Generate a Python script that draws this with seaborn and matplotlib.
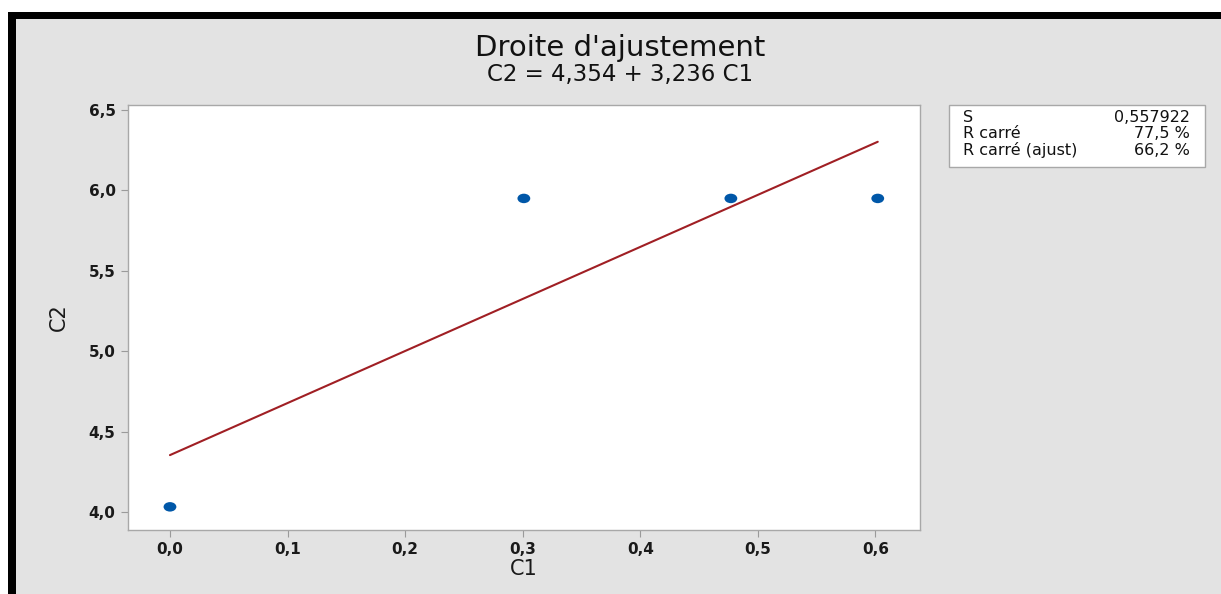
import numpy as np
import pandas as pd
import matplotlib
matplotlib.use("Agg")
import matplotlib.pyplot as plt
import seaborn as sns
from matplotlib.patches import Rectangle
from matplotlib.path import Path
from matplotlib.transforms import Affine2D

# ---- data ----
c1 = [0.0, 0.30103, 0.47712, 0.60206]
c2 = [4.032, 5.950, 5.950, 5.950]
x_ticks = [0.0, 0.1, 0.2, 0.3, 0.4, 0.5, 0.6]
x_tick_labels = ["0,0", "0,1", "0,2", "0,3", "0,4", "0,5", "0,6"]
y_ticks = [4.0, 4.5, 5.0, 5.5, 6.0, 6.5]
y_tick_labels = ["4,0", "4,5", "5,0", "5,5", "6,0", "6,5"]
title = "Droite d'ajustement"
subtitle = "C2 = 4,354 + 3,236 C1"
stat_names = ["S", "R carré", "R carré (ajust)"]
stat_values = ["0,557922", "77,5 %", "66,2 %"]

df = pd.DataFrame({"C1": c1, "C2": c2})

sns.set_theme(style="white")
plt.rcParams["font.family"] = ["DejaVu Sans"]

W, H = 1221, 594
fig = plt.figure(figsize=(W / 100, H / 100), dpi=100)
fig.patch.set_facecolor("white")

# gray panel with thick black top/left border
bg = "#E3E3E3"
fig.patches.append(Rectangle((8 / W, 0), 1 - 8 / W, 1 - 12 / H, transform=fig.transFigure,
                             facecolor=bg, edgecolor="none", zorder=-3))
fig.patches.append(Rectangle((8 / W, 1 - 19 / H), 1 - 8 / W, 7 / H, transform=fig.transFigure,
                             facecolor="black", edgecolor="none", zorder=-2))
fig.patches.append(Rectangle((8 / W, 0), 8 / W, 1 - 12 / H, transform=fig.transFigure,
                             facecolor="black", edgecolor="none", zorder=-2))

ax = fig.add_axes([128 / W, 1 - 530 / H, (920 - 128) / W, (530 - 105) / H])
ax.set_zorder(5)
ax.set_facecolor("white")

sns.regplot(data=df, x="C1", y="C2", ax=ax, scatter=False, ci=None, truncate=True,
            line_kws=dict(color="#A01F24", lw=1.5))
ell = Path.unit_circle().transformed(Affine2D().scale(1.35, 1.0))
sns.scatterplot(data=df, x="C1", y="C2", ax=ax, marker=ell, s=85, color="#0057A8",
                edgecolor="none", zorder=3)

ax.set_xlim(-0.0357, 0.638)
ax.set_ylim(3.888, 6.531)
ax.set_xticks(x_ticks)
ax.set_xticklabels(x_tick_labels, fontsize=11, fontweight="bold", color="#1a1a1a")
ax.set_yticks(y_ticks)
ax.set_yticklabels(y_tick_labels, fontsize=11, fontweight="bold", color="#1a1a1a")
ax.tick_params(axis="both", direction="out", length=5, width=0.8, color="#9a9a9a",
               pad=4, bottom=True, left=True)
for s in ax.spines.values():
    s.set_color("#a8a8a8")
    s.set_linewidth(1.0)

ax.set_xlabel("C1", fontsize=15, color="#1a1a1a", labelpad=1)
ax.set_ylabel("C2", fontsize=15, color="#1a1a1a", labelpad=14)

fig.text(620 / W, 1 - 48 / H, title, ha="center", va="center", fontsize=21, color="#111111")
fig.text(620 / W, 1 - 75 / H, subtitle, ha="center", va="center", fontsize=16.5, color="#111111")

# stats box
fig.patches.append(Rectangle((949 / W, 1 - 167 / H), (1205 - 949) / W, (167 - 105) / H,
                             transform=fig.transFigure, facecolor="white",
                             edgecolor="#a8a8a8", lw=1.0, zorder=2))
for i, (n, v) in enumerate(zip(stat_names, stat_values)):
    yy = 1 - (117 + i * 16.5) / H
    fig.text(963 / W, yy, n, ha="left", va="center", fontsize=11.5, color="#111111", zorder=3)
    fig.text(1190 / W, yy, v, ha="right", va="center", fontsize=11.5, color="#111111", zorder=3)

fig.savefig("out.png", dpi=100, facecolor=fig.get_facecolor())
